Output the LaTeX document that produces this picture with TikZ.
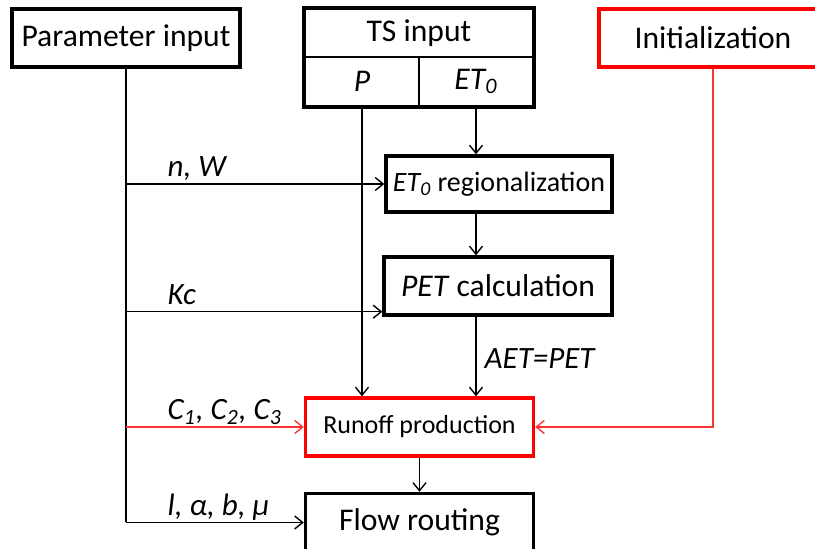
\documentclass[tikz,border=0pt]{standalone}
\usepackage{fontspec}
\setmainfont{Carlito}
\usetikzlibrary{arrows.meta,positioning,fit,calc}

\begin{document}
\begin{tikzpicture}[
    x=0.5pt, y=-0.5pt,
    box/.style={rectangle, draw, line width=1.7pt, minimum width=114pt,
                minimum height=29pt, inner sep=0pt, align=center,
                font=\fontsize{15.8}{18}\selectfont},
    cell/.style={rectangle, draw, line width=0.9pt, minimum width=57pt,
                 minimum height=24.5pt, inner sep=0pt,
                 font=\fontsize{15.8}{18}\selectfont},
    arrow/.style={-{Straight Barb[length=4pt,width=6.5pt]}, line width=0.7pt},
    redarrow/.style={arrow, draw=red!80},
    lbl/.style={font=\fontsize{15.5}{18}\selectfont\itshape, inner sep=0pt,
                anchor=base west}
]
\useasboundingbox (0,0) rectangle (815,549);

\node[box]            (param)  at (126,38)    {Parameter input};
\node[box, draw=red]  (init)   at (713,38)    {Initialization};
\node[cell, minimum width=114pt, minimum height=24pt] (tshead) at (419,33) {TS input};
\node[cell]           (tsp)    at (362,81.5)  {\textit{P}};
\node[cell]           (tset)   at (476,81.5)  {\textit{ET\textsubscript{0}}};
\node[fit=(tshead)(tsp)(tset), draw, line width=1.7pt, inner sep=0pt] (ts) {};
\node[box, minimum width=113pt, minimum height=28pt,
      font=\fontsize{14}{16}\selectfont] (etreg) at (499,184)
      {\textit{ET\textsubscript{0}} regionalization};
\node[box]            (pet)    at (498,286)   {\textit{PET} calculation};
\node[box, draw=red, font=\fontsize{13}{16}\selectfont]
                      (runoff) at (419.5,427) {Runoff production};
\node[box]            (flow)   at (419.5,522.5) {Flow routing};

\coordinate (kcin) at ($(pet.south west)+(0,-5)$);

% parameter branch
\draw[line width=0.7pt] (param.south) -- (param.south |- flow.west);
\foreach \tgt/\lab in {etreg.west/{n, W}, kcin/{Kc}, flow.west/{l, α, b, μ}}
    \draw[arrow] (param.south |- \tgt) -- (\tgt)
        node[lbl, pos=0, xshift=20.5pt, yshift=3.5pt] {\lab};
\draw[redarrow] (param.south |- runoff.west) -- (runoff.west)
    node[lbl, pos=0, xshift=20.5pt, yshift=3.5pt]
    {C\textsubscript{1}, C\textsubscript{2}, C\textsubscript{3}};

% time series branch
\draw[arrow] (tsp.south) -- (tsp.south |- runoff.north);
\draw[arrow] (tset.south) -- (tset.south |- etreg.north);
\draw[arrow] (tset.south |- etreg.south) -- (tset.south |- pet.north);
\draw[arrow] (tset.south |- pet.south) -- (tset.south |- runoff.north)
    node[lbl, midway, xshift=4pt, yshift=-6pt] {AET=PET};

\draw[redarrow] (init.south) |- (runoff.east);
\draw[arrow] (runoff) -- (flow);
\end{tikzpicture}
\end{document}
